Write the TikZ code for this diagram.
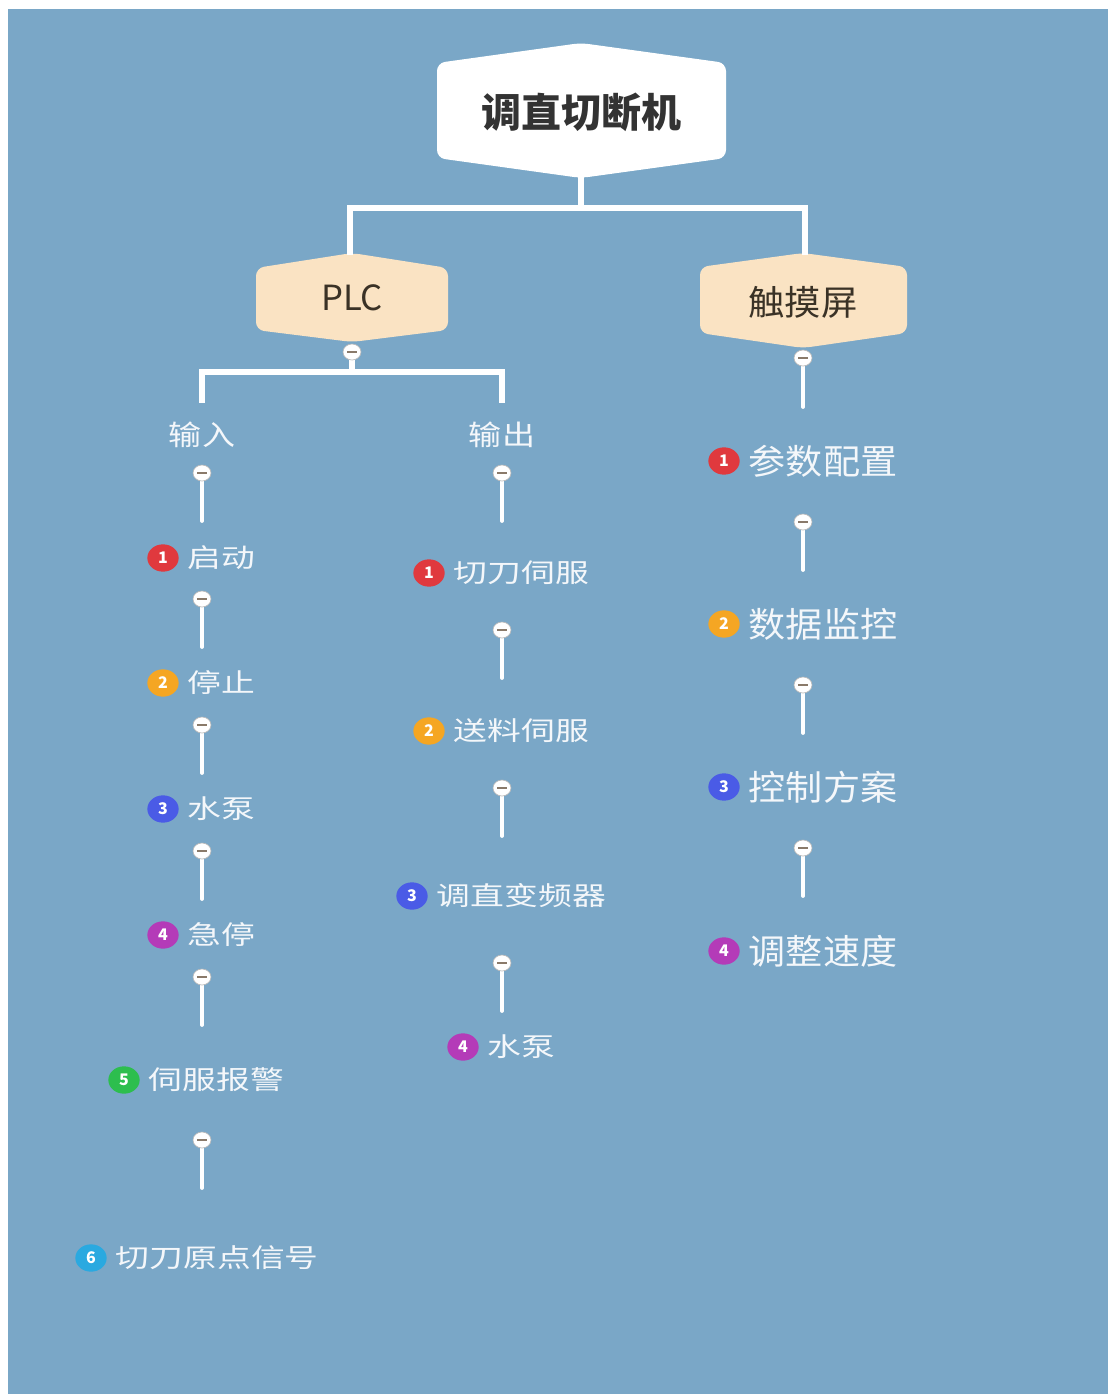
\documentclass[tikz,border=0pt]{standalone}
\usepackage{fontspec}
\usepackage{graphicx}
\setmainfont{Noto Sans CJK SC}
\usetikzlibrary{shapes.geometric}
\definecolor{bgblue}{HTML}{7AA7C7}
\definecolor{peach}{HTML}{FAE3C3}
\definecolor{roottxt}{HTML}{333333}
\definecolor{hextxt}{HTML}{3A3226}
\definecolor{itemtxt}{HTML}{F4F7FA}
\definecolor{bred}{HTML}{E0393E}
\definecolor{borange}{HTML}{F5A623}
\definecolor{bblue}{HTML}{4A5BE6}
\definecolor{bmag}{HTML}{B43BB8}
\definecolor{bgreen}{HTML}{2DBE4E}
\definecolor{bcyan}{HTML}{2AA9E0}
\definecolor{minusc}{HTML}{8A7A6A}
\tikzset{
  conn/.style={draw=white, line width=3.8pt, line cap=butt, line join=miter},
  stem/.style={draw=white, line width=2.8pt, line cap=round},
  hexbox/.style={rounded corners=6pt, draw=none},
  toggle/.style={ellipse, minimum width=13.5pt, minimum height=12pt, inner sep=0pt,
    fill=white, draw=gray!55, line width=0.5pt,
    path picture={\draw[minusc, line width=1.1pt]
      ([xshift=-3.6pt]path picture bounding box.center) --
      ([xshift=3.6pt]path picture bounding box.center);}},
  badge/.style={ellipse, minimum width=23.5pt, minimum height=20.5pt, inner sep=0pt,
    text=white, font=\fontsize{12}{12}\selectfont\bfseries},
  itemL/.style={anchor=west, inner sep=0pt, text=itemtxt, font=\fontsize{19.5}{20}\selectfont},
  itemR/.style={anchor=west, inner sep=0pt, text=itemtxt, font=\fontsize{26}{27}\selectfont},
  headtxt/.style={inner sep=0pt, text=itemtxt, font=\fontsize{21}{22}\selectfont},
}
\newcommand\itemL[6]{% name, badge x, y, color, number, text
  \node[badge, fill=#4] (#1b) at (#2,#3) {#5};
  \node[itemL] (#1) at ([xshift=6.5pt]#1b.east) {\scalebox{1.3}[1]{#6}};}
\newcommand\itemR[6]{%
  \node[badge, fill=#4] (#1b) at (#2,#3) {#5};
  \node[itemR] (#1) at ([xshift=6.5pt]#1b.east) {\scalebox{1.07}[1]{#6}};}
\newcommand\togl[4]{% name, x, y, end y
  \coordinate (#1e) at (#2,#4);
  \draw[stem] (#2,#3) -- (#1e);
  \node[toggle] (#1) at (#2,#3) {};}
\begin{document}
\begin{tikzpicture}[x=0.75pt,y=-0.75pt]
\useasboundingbox (0,0) rectangle (1110,1394);
\fill[white] (0,0) rectangle (1110,1394);
\fill[bgblue] (8,9) rectangle (1108,1394);

% root hexagon
\fill[white, hexbox] (437,63) -- (581,43) -- (726,63) -- (726,158) -- (581,178) -- (437,158) -- cycle;
\node[inner sep=0pt, text=roottxt, font=\fontsize{30}{31}\selectfont\bfseries] (root) at (581,112) {调直切断机};
\coordinate (rootb) at (581,176);
\coordinate (bar) at (581,208);

% PLC hexagon
\fill[peach, hexbox] (256,268) -- (352,253) -- (448,268) -- (448,330) -- (352,342) -- (256,330) -- cycle;
\node[inner sep=0pt, text=hextxt, font=\fontsize{26}{27}\selectfont] (plc) at (352,298) {PLC};
\coordinate (plct) at (350,255);

% touch hexagon
\fill[peach, hexbox] (700,267) -- (803,253) -- (907,267) -- (907,333) -- (803,348) -- (700,333) -- cycle;
\node[inner sep=0pt, text=hextxt, font=\fontsize{26}{27}\selectfont] (tch) at (803,302) {\scalebox{1.05}[1]{触摸屏}};
\coordinate (tcht) at (805,255);

\draw[conn] (rootb) -- (bar) -| (plct);
\draw[conn] (bar) -| (tcht);

% PLC branch
\coordinate (plcbar) at (352,372);
\coordinate (inT) at (202,403);
\coordinate (outT) at (502,403);
\draw[conn] (352,352) -- (plcbar);
\draw[conn] (plcbar) -| (inT);
\draw[conn] (plcbar) -| (outT);
\node[toggle] (plctg) at (352,352) {};

\node[headtxt] (in) at (202,435) {\scalebox{1.18}[1]{输入}};
\node[headtxt] (out) at (502,435) {\scalebox{1.18}[1]{输出}};

% left column
\togl{lt1}{202}{473}{521}
\itemL{l1}{163}{558}{bred}{1}{启动}
\togl{lt2}{202}{599}{647}
\itemL{l2}{163}{683}{borange}{2}{停止}
\togl{lt3}{202}{725}{773}
\itemL{l3}{163}{809}{bblue}{3}{水泵}
\togl{lt4}{202}{851}{899}
\itemL{l4}{163}{935}{bmag}{4}{急停}
\togl{lt5}{202}{977}{1025}
\itemL{l5}{124}{1080}{bgreen}{5}{伺服报警}
\togl{lt6}{202}{1140}{1188}
\itemL{l6}{91}{1258}{bcyan}{6}{切刀原点信号}

% middle column
\togl{mt1}{502}{473}{521}
\itemL{m1}{429}{573}{bred}{1}{切刀伺服}
\togl{mt2}{502}{630}{678}
\itemL{m2}{429}{731}{borange}{2}{送料伺服}
\togl{mt3}{502}{788}{836}
\itemL{m3}{412}{896}{bblue}{3}{调直变频器}
\togl{mt4}{502}{963}{1011}
\itemL{m4}{463}{1047}{bmag}{4}{水泵}

% right column
\togl{rt1}{803}{358}{407}
\itemR{r1}{724}{461}{bred}{1}{参数配置}
\togl{rt2}{803}{522}{570}
\itemR{r2}{724}{624}{borange}{2}{数据监控}
\togl{rt3}{803}{685}{733}
\itemR{r3}{724}{787}{bblue}{3}{控制方案}
\togl{rt4}{803}{848}{896}
\itemR{r4}{724}{951}{bmag}{4}{调整速度}
\end{tikzpicture}
\end{document}
